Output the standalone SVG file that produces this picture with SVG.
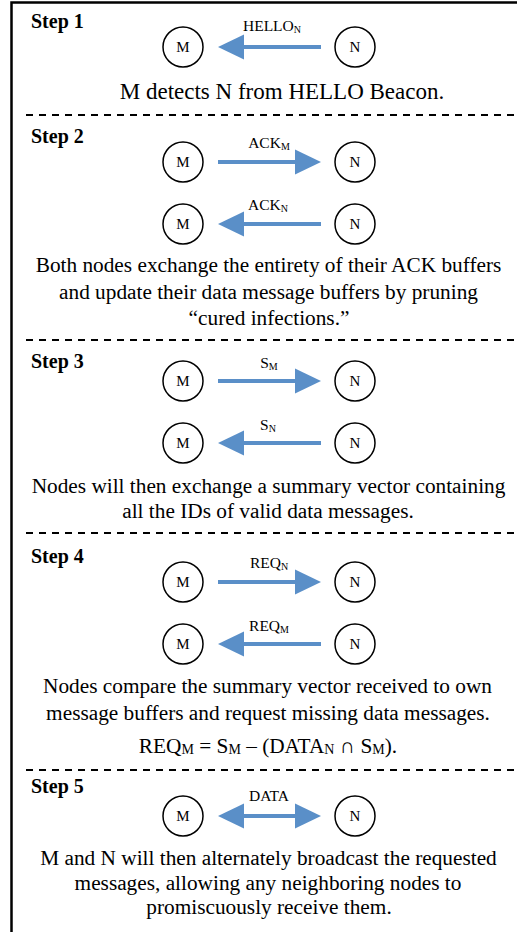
<svg xmlns="http://www.w3.org/2000/svg" width="517" height="932" viewBox="0 0 517 932">
  <defs>
    <style>
      .frame { stroke: #000; stroke-width: 2.5; fill: none; }
      .sep { stroke: #000; stroke-width: 2; stroke-dasharray: 7 6; fill: none; }
      .node circle { fill: #fff; stroke: #000; stroke-width: 1.5; }
      .node text { font-family: "Liberation Serif", "Times New Roman", serif; font-size: 15px; text-anchor: middle; fill: #000; }
      .shaft { stroke: #5a8fc8; stroke-width: 4; fill: none; }
      .lbl { font-family: "Liberation Serif", "Times New Roman", serif; font-size: 15.5px; text-anchor: middle; fill: #000; }
      .sub { font-size: 10px; }
      .step { font-family: "Liberation Serif", "Times New Roman", serif; font-size: 20px; font-weight: bold; fill: #000; }
      .body { font-family: "Liberation Serif", "Times New Roman", "DejaVu Serif", serif; font-size: 21.3px; text-anchor: middle; fill: #000; }
      .fsub { font-size: 14px; }
    </style>
    <marker id="head" markerUnits="userSpaceOnUse" markerWidth="26" markerHeight="26" refX="0" refY="12.5" orient="auto-start-reverse" viewBox="0 0 26 25">
      <path d="M0,0 L26,12.5 L0,25 Z" fill="#5a8fc8"/>
    </marker>
  </defs>

  <rect width="517" height="932" fill="#fff"/>

  <!-- outer frame: top and left edges -->
  <path class="frame" d="M11.5,934 V2.5 H520"/>

  <!-- section separators -->
  <g id="separators">
    <line class="sep" x1="26" y1="115" x2="517" y2="115"/>
    <line class="sep" x1="26" y1="340" x2="517" y2="340"/>
    <line class="sep" x1="26" y1="533" x2="517" y2="533"/>
    <line class="sep" x1="26" y1="770" x2="517" y2="770"/>
  </g>

  <!-- step titles -->
  <g id="titles">
    <text class="step" x="31" y="28">Step 1</text>
    <text class="step" x="31" y="143">Step 2</text>
    <text class="step" x="31" y="368">Step 3</text>
    <text class="step" x="31" y="563">Step 4</text>
    <text class="step" x="31" y="793">Step 5</text>
  </g>

  <!-- connectors -->
  <g id="connectors">
    <line class="shaft" x1="321" y1="47" x2="244" y2="47" marker-end="url(#head)"/>
    <line class="shaft" x1="218" y1="162" x2="295" y2="162" marker-end="url(#head)"/>
    <line class="shaft" x1="321" y1="224" x2="244" y2="224" marker-end="url(#head)"/>
    <line class="shaft" x1="218" y1="381" x2="295" y2="381" marker-end="url(#head)"/>
    <line class="shaft" x1="321" y1="443" x2="244" y2="443" marker-end="url(#head)"/>
    <line class="shaft" x1="218" y1="582" x2="295" y2="582" marker-end="url(#head)"/>
    <line class="shaft" x1="321" y1="644" x2="244" y2="644" marker-end="url(#head)"/>
    <line class="shaft" x1="244" y1="816" x2="295" y2="816" marker-start="url(#head)" marker-end="url(#head)"/>
  </g>

  <!-- connector labels -->
  <g id="connector-labels">
    <text class="lbl" x="272" y="31">HELLO<tspan class="sub" dy="2">N</tspan></text>
    <text class="lbl" x="269" y="148">ACK<tspan class="sub" dy="2">M</tspan></text>
    <text class="lbl" x="268" y="210">ACK<tspan class="sub" dy="2">N</tspan></text>
    <text class="lbl" x="269" y="368">S<tspan class="sub" dy="2">M</tspan></text>
    <text class="lbl" x="268" y="430">S<tspan class="sub" dy="2">N</tspan></text>
    <text class="lbl" x="269" y="568">REQ<tspan class="sub" dy="2">N</tspan></text>
    <text class="lbl" x="269" y="631">REQ<tspan class="sub" dy="2">M</tspan></text>
    <text class="lbl" x="269" y="801">DATA</text>
  </g>

  <!-- nodes -->
  <g id="s1-M" class="node"><circle cx="183" cy="47" r="20"/><text x="183" y="52">M</text></g>
  <g id="s1-N" class="node"><circle cx="355" cy="47" r="20"/><text x="355" y="52">N</text></g>
  <g id="s2a-M" class="node"><circle cx="183" cy="162" r="20"/><text x="183" y="167">M</text></g>
  <g id="s2a-N" class="node"><circle cx="355" cy="162" r="20"/><text x="355" y="167">N</text></g>
  <g id="s2b-M" class="node"><circle cx="183" cy="224" r="20"/><text x="183" y="229">M</text></g>
  <g id="s2b-N" class="node"><circle cx="355" cy="224" r="20"/><text x="355" y="229">N</text></g>
  <g id="s3a-M" class="node"><circle cx="183" cy="381" r="20"/><text x="183" y="386">M</text></g>
  <g id="s3a-N" class="node"><circle cx="355" cy="381" r="20"/><text x="355" y="386">N</text></g>
  <g id="s3b-M" class="node"><circle cx="183" cy="443" r="20"/><text x="183" y="448">M</text></g>
  <g id="s3b-N" class="node"><circle cx="355" cy="443" r="20"/><text x="355" y="448">N</text></g>
  <g id="s4a-M" class="node"><circle cx="183" cy="582" r="20"/><text x="183" y="587">M</text></g>
  <g id="s4a-N" class="node"><circle cx="355" cy="582" r="20"/><text x="355" y="587">N</text></g>
  <g id="s4b-M" class="node"><circle cx="183" cy="644" r="20"/><text x="183" y="649">M</text></g>
  <g id="s4b-N" class="node"><circle cx="355" cy="644" r="20"/><text x="355" y="649">N</text></g>
  <g id="s5-M" class="node"><circle cx="183" cy="816" r="20"/><text x="183" y="821">M</text></g>
  <g id="s5-N" class="node"><circle cx="355" cy="816" r="20"/><text x="355" y="821">N</text></g>

  <!-- step descriptions -->
  <g id="descriptions">
    <text class="body" x="282" y="99" style="font-size:23px">M detects N from HELLO Beacon.</text>

    <text class="body" x="268.5" y="272">Both nodes exchange the entirety of their ACK buffers</text>
    <text class="body" x="268.5" y="298.5">and update their data message buffers by pruning</text>
    <text class="body" x="269" y="325">“cured infections.”</text>

    <text class="body" x="268.5" y="493">Nodes will then exchange a summary vector containing</text>
    <text class="body" x="268" y="518">all the IDs of valid data messages.</text>

    <text class="body" x="267.5" y="693">Nodes compare the summary vector received to own</text>
    <text class="body" x="268" y="720">message buffers and request missing data messages.</text>
    <text class="body" x="268" y="753">REQ<tspan class="fsub" dy="1">M</tspan><tspan dy="-1"> = S</tspan><tspan class="fsub" dy="1">M</tspan><tspan dy="-1"> – (DATA</tspan><tspan class="fsub" dy="1">N</tspan><tspan dy="-1"> ∩ S</tspan><tspan class="fsub" dy="1">M</tspan><tspan dy="-1">).</tspan></text>

    <text class="body" x="268.5" y="865">M and N will then alternately broadcast the requested</text>
    <text class="body" x="268" y="890">messages, allowing any neighboring nodes to</text>
    <text class="body" x="269" y="914">promiscuously receive them.</text>
  </g>
</svg>
